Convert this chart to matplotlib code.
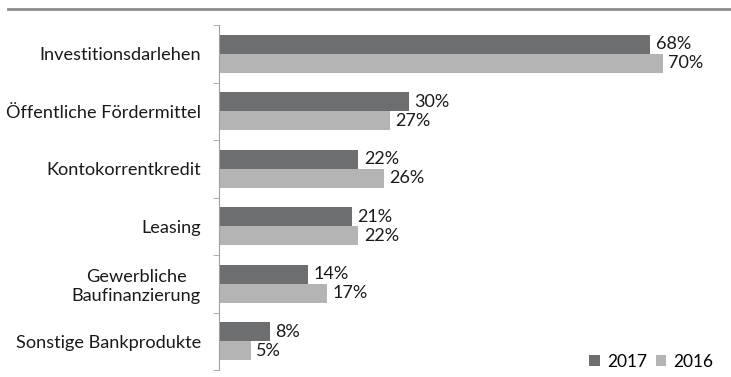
import matplotlib.pyplot as plt
from matplotlib.lines import Line2D
import numpy as np

categories = ["Investitionsdarlehen", "Öffentliche Fördermittel", "Kontokorrentkredit",
              "Leasing", "Gewerbliche\nBaufinanzierung", "Sonstige Bankprodukte"]
values_2017 = [68, 30, 22, 21, 14, 8]
values_2016 = [70, 27, 26, 22, 17, 5]
series_names = ["2017", "2016"]

dark = "#6d6e70"
light = "#b4b4b4"
plt.rcParams["font.family"] = ["Lato", "DejaVu Sans"]

fig = plt.figure(figsize=(7.31, 3.77), dpi=100)
ax = fig.add_axes([219 / 731, 7 / 377, 507 / 731, 345 / 377])

y = np.arange(len(categories))
h = 0.33
b1 = ax.barh(y - h / 2, values_2017, height=h, color=dark, label=series_names[0])
b2 = ax.barh(y + h / 2, values_2016, height=h, color=light, label=series_names[1])

for bars, vals in ((b1, values_2017), (b2, values_2016)):
    for bar, v in zip(bars, vals):
        ax.annotate(f"{v}%", (bar.get_width(), bar.get_y() + bar.get_height() / 2),
                    xytext=(4, 0), textcoords="offset points", va="center", ha="left",
                    fontsize=13, color="#1a1a1a")

ax.set_xlim(0, 80)
ax.set_ylim(len(categories) - 0.5, -0.5)
ax.set_xticks([])
ax.set_yticks(y)
ax.set_yticklabels(categories, fontsize=13.1, color="#1a1a1a", multialignment="center")
ax.tick_params(axis="y", length=0, pad=13)
ax.set_yticks(np.arange(-0.5, len(categories), 1), minor=True)
ax.tick_params(axis="y", which="minor", length=4, color="#a0a0a0", direction="out")
for s in ("top", "right", "bottom"):
    ax.spines[s].set_visible(False)
ax.spines["left"].set_color("#a0a0a0")

ax.legend(loc="lower right", frameon=False, fontsize=12.5, ncol=2, handlelength=0.6,
          handleheight=0.6, handletextpad=0.4, columnspacing=0.5,
          bbox_to_anchor=(1.005, -0.045))

fig.add_artist(Line2D([8 / 731, 1.0], [1 - 9 / 377, 1 - 9 / 377], color="#8c8c8c", lw=2))

fig.savefig("out.png", dpi=100, facecolor="white")
